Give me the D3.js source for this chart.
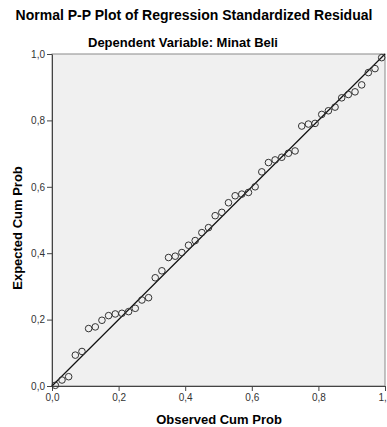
<!DOCTYPE html>
<html>
<head>
<meta charset="utf-8">
<script src="https://cdn.jsdelivr.net/npm/d3@7"></script>
<style>
    body { margin: 0; background: #fff; }
    text { font-family: "Liberation Sans", Arial, sans-serif; }
    .axis path, .axis line { stroke: #444; }
    .axis text { fill: #333; font-size: 10px; }
</style>
</head>
<body>
<div id="pp-plot"></div>
<script>

// Observed cumulative probability (x) for the 50 residuals
var observedCumProb = [
    0.01, 0.03, 0.05, 0.07, 0.09, 0.11, 0.13, 0.15, 0.17, 0.19,
    0.21, 0.23, 0.25, 0.27, 0.29, 0.31, 0.33, 0.35, 0.37, 0.39,
    0.41, 0.43, 0.45, 0.47, 0.49, 0.51, 0.53, 0.55, 0.57, 0.59,
    0.61, 0.63, 0.65, 0.67, 0.69, 0.71, 0.73, 0.75, 0.77, 0.79,
    0.81, 0.83, 0.85, 0.87, 0.89, 0.91, 0.93, 0.95, 0.97, 0.99
];

// Expected cumulative probability (y)
var expectedCumProb = [
    0.002, 0.018, 0.028, 0.093, 0.104, 0.173, 0.178, 0.198, 0.212, 0.217,
    0.219, 0.224, 0.234, 0.259, 0.266, 0.326, 0.347, 0.387, 0.391, 0.402,
    0.424, 0.438, 0.462, 0.477, 0.513, 0.523, 0.552, 0.573, 0.578, 0.583,
    0.600, 0.645, 0.673, 0.681, 0.689, 0.701, 0.708, 0.783, 0.789, 0.791,
    0.818, 0.829, 0.840, 0.868, 0.878, 0.886, 0.907, 0.944, 0.956, 0.989
];

var tickValues = [0, 0.2, 0.4, 0.6, 0.8, 1.0];

var chartTitle = "Normal P-P Plot of Regression Standardized Residual";
var chartSubtitle = "Dependent Variable: Minat Beli";
var xTitle = "Observed Cum Prob";
var yTitle = "Expected Cum Prob";


PPPlot = function(_parentElement, _x, _y) {
    this.parentElement = _parentElement;
    this.xData = _x;
    this.yData = _y;
    this.initVis();
};

PPPlot.prototype.initVis = function() {
    var vis = this;
    vis.margin = { top: 54, right: 2, bottom: 41, left: 52 };

    vis.width = 387 - vis.margin.left - vis.margin.right;
    vis.height = 427 - vis.margin.top - vis.margin.bottom;

    vis.root = d3.select("#" + vis.parentElement).append("svg")
        .attr("width", 387)
        .attr("height", 427);

    vis.svg = vis.root.append("g")
        .attr("transform", "translate(" + vis.margin.left + "," + vis.margin.top + ")");

    // titles
    vis.root.append("text")
        .attr("x", 194).attr("y", 20)
        .attr("text-anchor", "middle")
        .style("font-size", "14px").style("font-weight", "bold")
        .text(chartTitle);

    vis.root.append("text")
        .attr("x", 183).attr("y", 47)
        .attr("text-anchor", "middle")
        .style("font-size", "13px").style("font-weight", "bold")
        .text(chartSubtitle);

    vis.x = d3.scaleLinear().domain([0, 1]).range([0, vis.width]);
    vis.y = d3.scaleLinear().domain([0, 1]).range([vis.height, 0]);

    var comma = d3.formatLocale({ decimal: ",", thousands: ".", grouping: [3], currency: ["", ""] });
    vis.fmt = comma.format(".1f");

    vis.wrangleData();
};

PPPlot.prototype.wrangleData = function() {
    var vis = this;
    vis.displayData = vis.xData.map(function(d, i) {
        return { obs: d, exp: vis.yData[i] };
    });
    vis.updateVis();
};

PPPlot.prototype.updateVis = function() {
    var vis = this;

    // plot background + frame
    vis.svg.append("rect")
        .attr("width", vis.width)
        .attr("height", vis.height)
        .attr("fill", "#f0f0f0")
        .attr("stroke", "#8a8a8a")
        .attr("stroke-width", 1);

    vis.svg.append("g")
        .attr("class", "axis")
        .attr("transform", "translate(0," + vis.height + ")")
        .call(d3.axisBottom(vis.x).tickValues(tickValues).tickFormat(vis.fmt).tickSize(5).tickSizeOuter(0).tickPadding(3));

    vis.svg.append("g")
        .attr("class", "axis")
        .call(d3.axisLeft(vis.y).tickValues(tickValues).tickFormat(vis.fmt).tickSize(5).tickSizeOuter(0).tickPadding(2));

    // reference diagonal
    vis.svg.append("line")
        .attr("x1", vis.x(0)).attr("y1", vis.y(0))
        .attr("x2", vis.x(1)).attr("y2", vis.y(1))
        .attr("stroke", "#111")
        .attr("stroke-width", 1.2);

    vis.svg.selectAll("circle.pp-point")
        .data(vis.displayData)
        .enter()
        .append("circle")
        .attr("class", "pp-point")
        .attr("cx", function(d) { return vis.x(d.obs); })
        .attr("cy", function(d) { return vis.y(d.exp); })
        .attr("r", 3.3)
        .attr("fill", "none")
        .attr("stroke", "#333")
        .attr("stroke-width", 1);

    // axis titles
    vis.root.append("text")
        .attr("x", 219).attr("y", 424)
        .attr("text-anchor", "middle")
        .style("font-size", "13px").style("font-weight", "bold")
        .text(xTitle);

    vis.root.append("text")
        .attr("transform", "translate(22,228) rotate(-90)")
        .attr("text-anchor", "middle")
        .style("font-size", "13px").style("font-weight", "bold")
        .text(yTitle);
};

var ppplot = new PPPlot("pp-plot", observedCumProb, expectedCumProb);
</script>
</body>
</html>
